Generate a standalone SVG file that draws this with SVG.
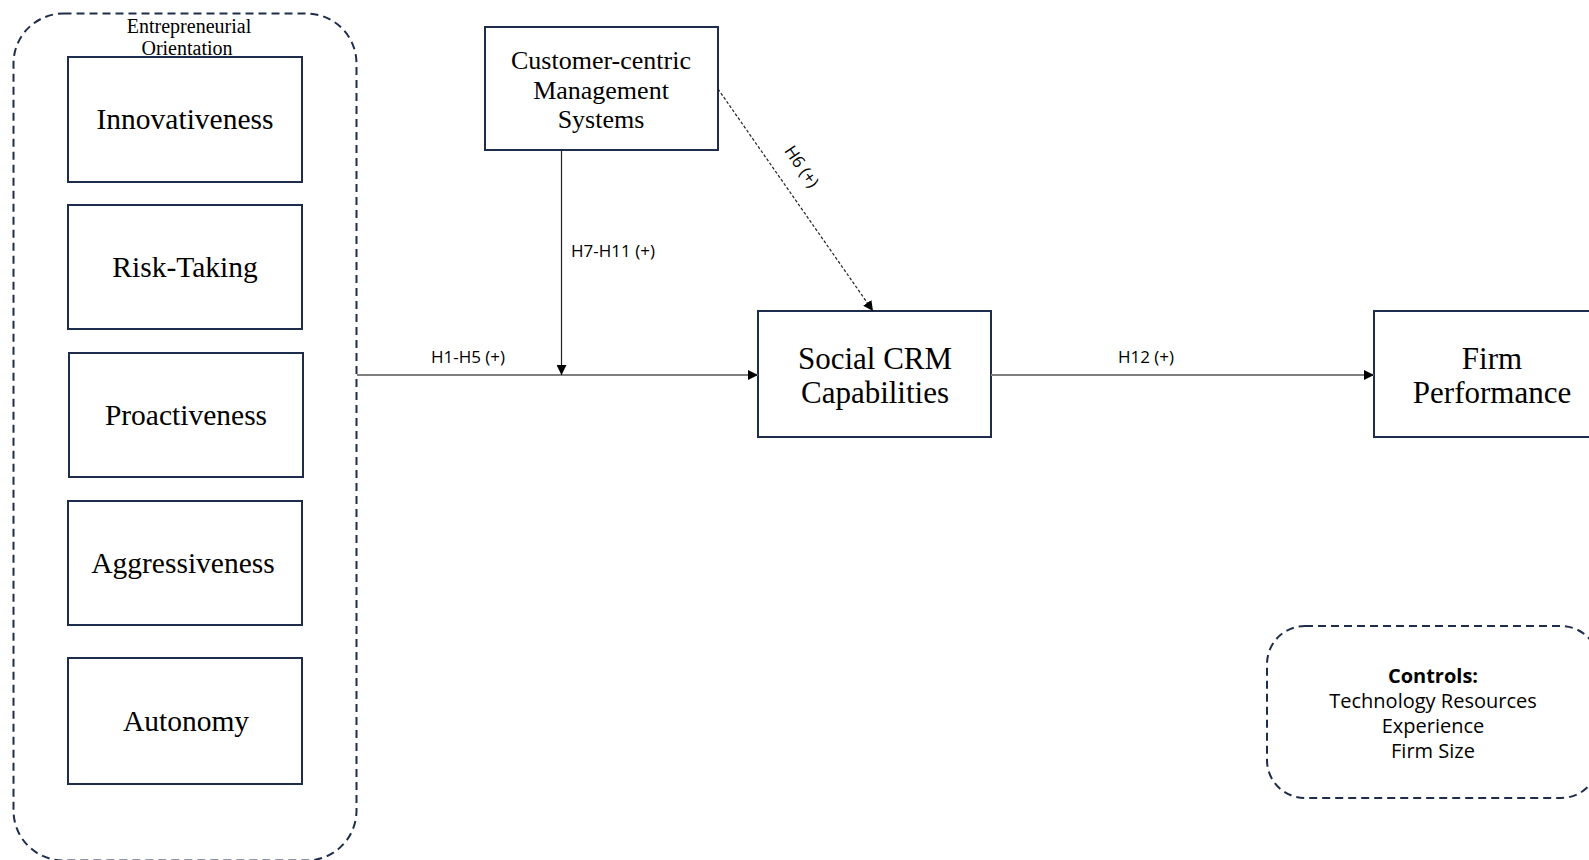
<svg xmlns="http://www.w3.org/2000/svg" width="1589" height="860" viewBox="0 0 1589 860">
<style>
.box{fill:#fff;stroke:#1f2d4d;stroke-width:2}
.dash{fill:none;stroke:#1f2d4d;stroke-width:2;stroke-dasharray:8 5}
.serif{font-family:"Liberation Serif","Times New Roman",serif;fill:#000;text-anchor:middle}
.sans{font-family:"Open Sans","Noto Sans",sans-serif;fill:#000;text-anchor:middle}
.lbl{font-size:17px}
.gray{stroke:#7f7f7f;stroke-width:2;fill:none}
.thin{stroke:#222;stroke-width:1.2;fill:none}
</style>
<defs>
<marker id="arr" viewBox="0 0 10 10" refX="10" refY="5" markerWidth="10" markerHeight="10" markerUnits="userSpaceOnUse" orient="auto">
<path d="M0,0 L10,5 L0,10 Z" fill="#000"/>
</marker>
</defs>
<rect width="1589" height="860" fill="#fff"/>
<g id="eo-group">
<rect class="dash" x="13.5" y="13.5" width="343" height="847" rx="50" ry="50"/>
<text class="serif" font-size="20" x="189" y="33">Entrepreneurial</text>
<text class="serif" font-size="20" x="187" y="55">Orientation</text>
</g>
<g id="innovativeness">
<rect class="box" x="68" y="57" width="234" height="125"/>
<text class="serif" font-size="29.5" x="185" y="129">Innovativeness</text>
</g>
<g id="risk-taking">
<rect class="box" x="68" y="205" width="234" height="124"/>
<text class="serif" font-size="29.5" x="185" y="277">Risk-Taking</text>
</g>
<g id="proactiveness">
<rect class="box" x="69" y="353" width="234" height="124"/>
<text class="serif" font-size="29.5" x="186" y="425">Proactiveness</text>
</g>
<g id="aggressiveness">
<rect class="box" x="68" y="501" width="234" height="124"/>
<text class="serif" font-size="29.5" x="183" y="573">Aggressiveness</text>
</g>
<g id="autonomy">
<rect class="box" x="68" y="658" width="234" height="126"/>
<text class="serif" font-size="29.5" x="186" y="731">Autonomy</text>
</g>
<g id="ccms">
<rect class="box" x="485" y="27" width="233" height="123"/>
<text class="serif" font-size="26" x="601" y="69">Customer-centric</text>
<text class="serif" font-size="26" x="601" y="98.5">Management</text>
<text class="serif" font-size="26" x="601" y="128">Systems</text>
</g>
<g id="social-crm">
<rect class="box" x="758" y="311" width="233" height="126"/>
<text class="serif" font-size="31" x="875" y="369">Social CRM</text>
<text class="serif" font-size="31" x="875" y="403">Capabilities</text>
</g>
<g id="firm-performance">
<rect class="box" x="1374" y="311" width="234" height="126"/>
<text class="serif" font-size="31" x="1492" y="369">Firm</text>
<text class="serif" font-size="31" x="1492" y="403">Performance</text>
</g>
<g id="controls">
<rect class="dash" x="1267" y="626" width="332" height="172" rx="38" ry="38"/>
<text class="sans" font-size="20" font-weight="bold" x="1433" y="683">Controls:</text>
<text class="sans" font-size="20" x="1433" y="708">Technology Resources</text>
<text class="sans" font-size="20" x="1433" y="733">Experience</text>
<text class="sans" font-size="20" x="1433" y="758">Firm Size</text>
</g>
<g id="connectors">
<line class="gray" x1="357" y1="375" x2="758" y2="375" marker-end="url(#arr)"/>
<line class="thin" x1="561.5" y1="150" x2="561.5" y2="375" marker-end="url(#arr)"/>
<line class="thin" x1="718" y1="89" x2="873" y2="311" stroke-dasharray="3 2" marker-end="url(#arr)"/>
<line class="gray" x1="991" y1="375" x2="1374" y2="375" marker-end="url(#arr)"/>
<text class="sans lbl" x="468" y="363">H1-H5 (+)</text>
<text class="sans lbl" x="613" y="257">H7-H11 (+)</text>
<text class="sans lbl" x="1146" y="363">H12 (+)</text>
<text class="sans lbl" transform="translate(801,167) rotate(55.7)" x="0" y="5">H6 (+)</text>
</g>
</svg>
